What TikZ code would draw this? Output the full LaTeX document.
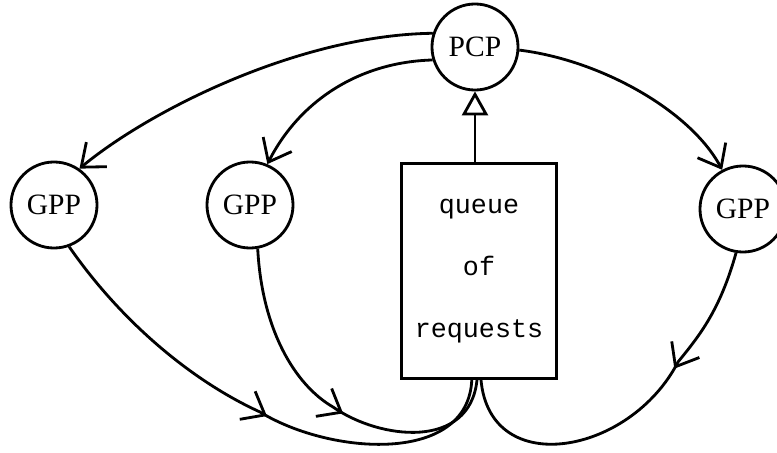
\documentclass[tikz,border=0pt]{standalone}
\usepackage{fontspec}
\setmainfont{Liberation Serif}
\setmonofont{Liberation Mono}
\usetikzlibrary{arrows.meta, decorations.markings}

\begin{document}
\begin{tikzpicture}[x=0.025cm, y=-0.025cm, line width=2pt,
  proc/.style={draw, circle, minimum size=2.15cm, inner sep=0pt, font=\fontsize{21}{24}\selectfont},
  barb/.tip={Straight Barb[length=5mm, width=8mm]},
  flow/.style={-barb},
  midarrow/.style={postaction={decorate}, decoration={markings, mark=at position #1 with {\arrow{barb}}}}]

% Fix margins
\useasboundingbox (0,0) rectangle (777,453);

% Draw processors
\node[proc] (pcp) at (475,47) {PCP};
\node[proc] (gppa) at (54,205) {GPP};
\node[proc] (gppb) at (250,205) {GPP};
\node[proc] (gppc) at (743,209) {GPP};

% Draw queue
\node[draw, minimum width=3.875cm, minimum height=5.375cm, align=center,
  font=\ttfamily\fontsize{19}{44}\selectfont] (queue) at (479,271) {queue\\of\\requests};

% Draw requests to PCP
\draw[-{Triangle[open, length=6mm, width=6.5mm]}] (pcp.south |- queue.north) -- (pcp.south);

% Draw PCP to GPPs
\draw[flow] (pcp.162) .. controls (300,35) and (150,110) .. (gppa.55);
\draw[flow] (pcp.197) .. controls (360,62) and (300,100) .. (gppb.67);
\draw[flow] (pcp.-4) .. controls (600,60) and (690,110) .. (gppc.118);

% Draw GPPs to queue
\draw[midarrow=0.52] (gppa.-70) .. controls (120,320) and (190,380) .. (260,412)
  .. controls (330,455) and (468,465) .. ([xshift=-0.18cm]queue.south);
\draw[midarrow=0.54] (gppb.-80) .. controls (262,330) and (295,385) .. (333,407)
  .. controls (380,440) and (470,450) .. ([xshift=-0.05cm]queue.south);
\draw[midarrow=0.34] (gppc.261) .. controls (720,310) and (700,335) .. (678,362)
  .. controls (630,455) and (490,480) .. ([xshift=0.05cm]queue.south);

\end{tikzpicture}
\end{document}
